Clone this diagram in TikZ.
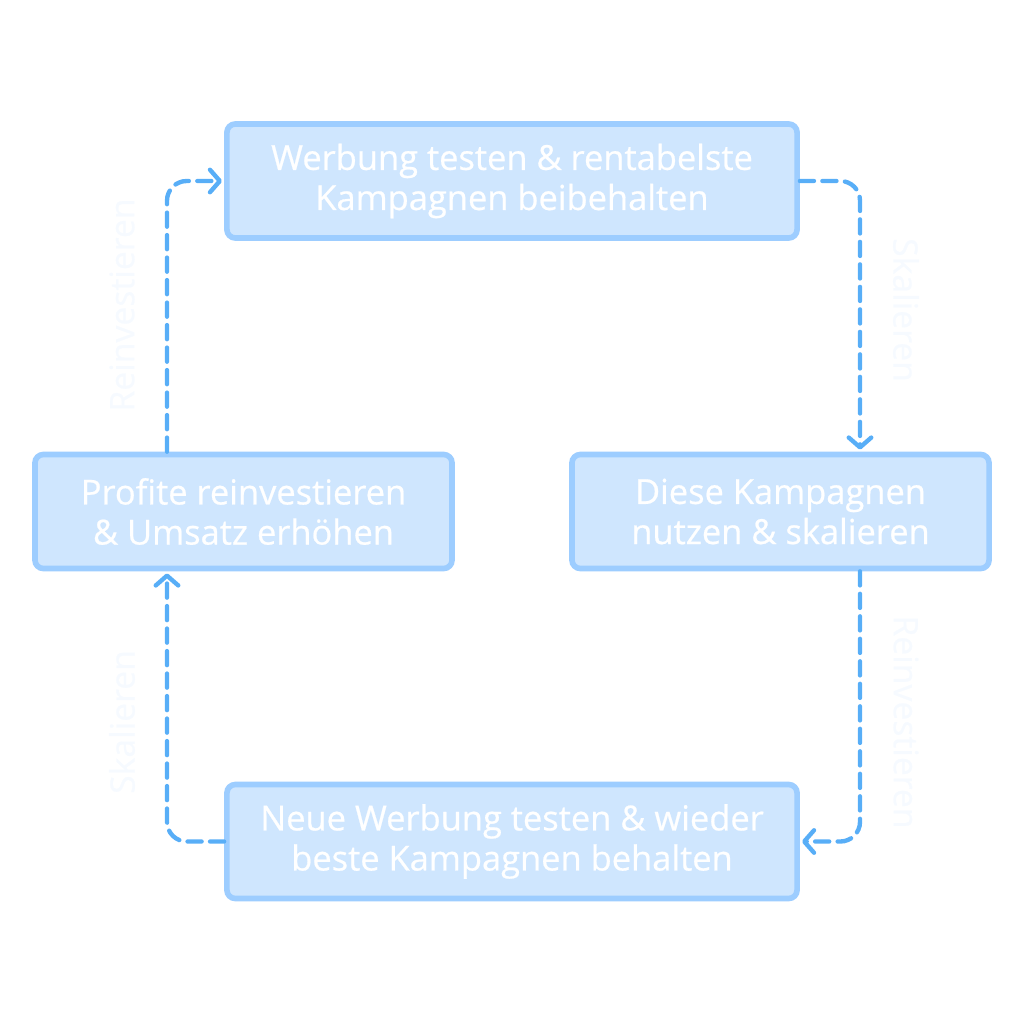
\documentclass[tikz,border=0pt]{standalone}
\usepackage{fontspec}
\setmainfont{Open Sans}
\newfontfamily\medfont{Open Sans}[FakeBold=0.6]
\usetikzlibrary{arrows.meta}
\definecolor{boxfill}{HTML}{CFE6FE}
\definecolor{boxline}{HTML}{9DCDFF}
\definecolor{arrowc}{HTML}{58AEF7}
\definecolor{faint}{HTML}{F6FAFF}
\tikzset{
  stepbox/.style={draw=boxline, fill=boxfill, line width=4pt, rounded corners=6pt,
    text=white, align=center, font=\medfont\fontsize{24.5}{28.5}\selectfont,
    inner sep=0pt},
  wide/.style={minimum width=14.25cm, minimum height=2.85cm},
  narrow/.style={minimum width=10.425cm, minimum height=2.85cm},
  flow/.style={draw=arrowc, line width=3.1pt, dash pattern=on 10pt off 6pt,
    rounded corners=14pt, line cap=round,
    -{Straight Barb[length=7pt,width=16pt,line width=3.1pt,round]}, shorten >=1.5pt},
  lbl/.style={text=faint, font=\medfont\fontsize{24}{28}\selectfont}
}
\begin{document}
\begin{tikzpicture}[x=0.025cm,y=-0.025cm]
\useasboundingbox (0,0) rectangle (1024,1024);
\node[stepbox,wide] (top) at (512,181) {Werbung testen \& rentabelste\\Kampagnen beibehalten};
\node[stepbox,narrow] (left) at (243.5,511.5) {Profite reinvestieren\\\& Umsatz erhöhen};
\node[stepbox,narrow] (right) at (780.5,511.5) {Diese Kampagnen\\nutzen \& skalieren};
\node[stepbox,wide] (bottom) at (512,841.5) {Neue Werbung testen \& wieder\\beste Kampagnen behalten};
\coordinate (rx) at (860,0);
\coordinate (lx) at (167,0);
\draw[flow] (top.east) -| (rx |- right.north);
\draw[flow] (rx |- right.south) |- (bottom.east);
\draw[flow] (bottom.west) -| (lx |- left.south);
\draw[flow] (lx |- left.north) |- (top.west);
\node[lbl, rotate=-90] (l1) at (906,310) {Skalieren};
\node[lbl, rotate=-90] (l2) at (906,722) {Reinvestieren};
\node[lbl, rotate=90] (l3) at (122,305) {Reinvestieren};
\node[lbl, rotate=90] (l4) at (122,722) {Skalieren};
\end{tikzpicture}
\end{document}
